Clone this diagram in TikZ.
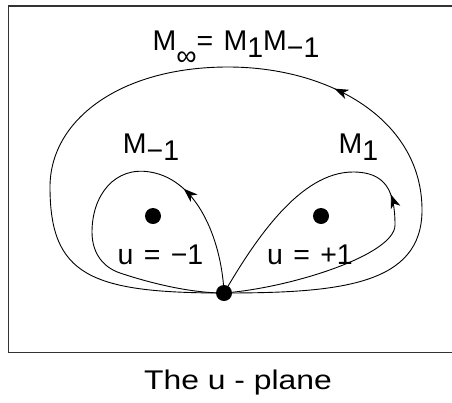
\documentclass[tikz,border=0pt]{standalone}
\usepackage{fontspec}
\setmainfont{Liberation Sans}
\newfontfamily\lblfont{Liberation Sans}[WordSpace=1.3]
\usetikzlibrary{arrows.meta,decorations.markings}
\newcommand\lowsub[1]{\raisebox{-7pt}{#1}}
\newcommand\infsub[1]{\raisebox{-15pt}{#1}}
\tikzset{
  dot/.style={circle,fill=black,inner sep=0pt,minimum size=16pt},
  lbl/.style={font=\lblfont\fontsize{28.5}{32}\selectfont,inner sep=0pt,anchor=base},
  loopline/.style={line width=0.9pt,postaction={decorate}},
  arrowat/.style={decoration={markings,mark=at position #1 with {\arrow{Stealth[length=14pt,width=10pt,inset=4pt]}}}},
}
\begin{document}
\begin{tikzpicture}[x=1pt,y=-1pt]
\useasboundingbox (0,0) rectangle (452,402);
\draw[line width=1.4pt,black!80] (452,6) -- (8.5,6) -- (8.5,352.5) -- (452,352.5);

\node[dot] (base) at (224,293) {};
\node[dot] (pm) at (153,216) {};
\node[dot] (pp) at (321,216) {};

% outer loop
\draw[loopline,arrowat=0.405] (base.center)
  .. controls (340,293) and (422,285) .. (422,210)
  .. controls (422,120) and (330,67) .. (228,67)
  .. controls (120,67) and (50,120) .. (50,187)
  .. controls (50,275) and (90,293) .. (base.center);

% left loop
\draw[loopline,arrowat=0.28] (base.center)
  .. controls (222,245) and (200,180) .. (150,172)
  .. controls (115,166) and (92,195) .. (92,232)
  .. controls (92,255) and (105,268) .. (120,273)
  .. controls (150,283) and (190,293) .. (base.center);

% right loop
\draw[loopline,arrowat=0.49] (base.center)
  .. controls (290,288) and (395,255) .. (395,225)
  .. controls (395,190) and (385,172) .. (353,172)
  .. controls (300,172) and (255,240) .. (base.center);

\node[lbl] (minf) at (236,50.5) {M\infsub{∞}= M\lowsub{1}M\lowsub{−1}};
\node[lbl] (mm) at (151,153) {M\lowsub{−1}};
\node[lbl] (mp) at (358.5,153) {M\lowsub{1}};
\node[lbl] (um) at (160.5,264.3) {u = −1};
\node[lbl] (up) at (310,264.3) {u = +1};
\node[lbl,font=\fontsize{27}{30}\selectfont] (cap) at (238,389) {\scalebox{1.18}[1]{The u - plane}};
\end{tikzpicture}
\end{document}
